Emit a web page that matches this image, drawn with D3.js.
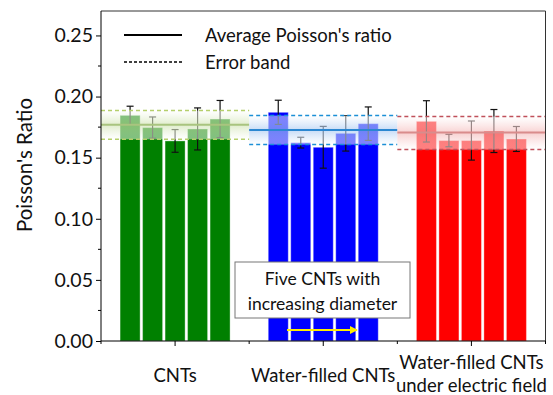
<!DOCTYPE html>
<html><head><meta charset="utf-8">
<script src="https://cdn.jsdelivr.net/npm/d3@7"></script>
<style>body{margin:0;background:#fff}svg{display:block}text{font-family:Lato,"Open Sans",sans-serif;fill:#111}</style>
</head><body><svg id="c" width="553" height="395"></svg>
<script>
const categories = ["CNTs", "Water-filled CNTs", "Water-filled CNTs|under electric field"];
const cntValues = [0.1846, 0.1746, 0.1637, 0.1735, 0.1816];
const cntErrors = [0.0075, 0.0087, 0.0093, 0.0172, 0.0152];
const waterValues = [0.1871, 0.1623, 0.1585, 0.1699, 0.1778];
const waterErrors = [0.0099, 0.0044, 0.0171, 0.0145, 0.0137];
const fieldValues = [0.1797, 0.1640, 0.1640, 0.1718, 0.1653];
const fieldErrors = [0.0169, 0.0051, 0.0160, 0.0176, 0.0102];
const meanValues = [0.1770, 0.1727, 0.1705];
const bandUpper = [0.1885, 0.1844, 0.1836];
const bandLower = [0.1650, 0.1607, 0.1566];
const yTicks = [0.00, 0.05, 0.10, 0.15, 0.20, 0.25];
const barColors = ["#008000", "#0000ff", "#ff0000"];
const tintColors = ["#cfe3b0", "#a9c9f2", "#f4b8b8"];
const meanColors = ["#a9c47f", "#2b87d1", "#d98c8c"];
const dashColors = ["#b5cf6b", "#1b8fd6", "#c0505a"];

const series = [cntValues, waterValues, fieldValues];
const errors = [cntErrors, waterErrors, fieldErrors];

const svg = d3.select("#c");
const L = 101, R = 545.5, T = 11, B = 341;
const x = d3.scaleBand().domain(categories).range([L, R]).padding(0);
const y = d3.scaleLinear().domain([0, 0.27]).range([B, T]);
const idx = d3.range(5);
const inner = d3.scaleBand().domain(idx).paddingInner(0.11).paddingOuter(0);

const defs = svg.append("defs");
categories.forEach((c, i) => {
  const g = defs.append("linearGradient").attr("id", "grad" + i).attr("x1", 0).attr("x2", 0).attr("y1", 0).attr("y2", 1);
  g.append("stop").attr("offset", "0%").attr("stop-color", "#fff").attr("stop-opacity", 0.5);
  g.append("stop").attr("offset", "50%").attr("stop-color", tintColors[i]).attr("stop-opacity", 0.65);
  g.append("stop").attr("offset", "100%").attr("stop-color", "#fff").attr("stop-opacity", 0.5);
});

// bars
categories.forEach((c, i) => {
  const cx = x(c) + x.bandwidth() / 2;
  inner.range([cx - 55, cx + 55]);
  const g = svg.append("g");
  g.selectAll("rect").data(series[i]).join("rect")
    .attr("x", (d, j) => inner(j)).attr("width", inner.bandwidth())
    .attr("y", d => y(d)).attr("height", d => B - y(d))
    .attr("fill", barColors[i]).attr("stroke", "#fff").attr("stroke-opacity", 0.35).attr("stroke-width", 1);
  // error bars
  const eg = svg.append("g").attr("stroke", "#111").attr("stroke-width", 1.2);
  series[i].forEach((v, j) => {
    const ex = inner(j) + inner.bandwidth() / 2, e = errors[i][j];
    eg.append("line").attr("x1", ex).attr("x2", ex).attr("y1", y(v + e)).attr("y2", y(v - e));
    eg.append("line").attr("x1", ex - 3.5).attr("x2", ex + 3.5).attr("y1", y(v + e)).attr("y2", y(v + e));
    eg.append("line").attr("x1", ex - 3.5).attr("x2", ex + 3.5).attr("y1", y(v - e)).attr("y2", y(v - e));
  });
});

// bands
categories.forEach((c, i) => {
  const x0 = x(c), x1 = x(c) + x.bandwidth();
  svg.append("rect").attr("x", x0).attr("width", x1 - x0)
    .attr("y", y(bandUpper[i])).attr("height", y(bandLower[i]) - y(bandUpper[i]))
    .attr("fill", `url(#grad${i})`);
  svg.append("line").attr("x1", x0).attr("x2", x1).attr("y1", y(meanValues[i])).attr("y2", y(meanValues[i]))
    .attr("stroke", meanColors[i]).attr("stroke-width", 2);
  [bandUpper[i], bandLower[i]].forEach(v => {
    svg.append("line").attr("x1", x0).attr("x2", x1).attr("y1", y(v)).attr("y2", y(v))
      .attr("stroke", dashColors[i]).attr("stroke-width", 1.5).attr("stroke-dasharray", "4,3");
  });
});

// frame
svg.append("path").attr("d", `M${L},${T}H${R}V${B}`).attr("fill", "none").attr("stroke", "#333").attr("stroke-width", 1);

// y axis
const yAxis = svg.append("g").attr("transform", `translate(${L},0)`)
  .call(d3.axisLeft(y).tickValues(yTicks).tickFormat(d3.format(".2f")).tickSize(5).tickPadding(3));
yAxis.append("g").selectAll("line").data(d3.range(0.025, 0.27, 0.05)).join("line")
  .attr("x1", -3).attr("x2", 0).attr("y1", d => y(d)).attr("y2", d => y(d)).attr("stroke", "#000");
yAxis.selectAll("text").style("font-size", "19.5px").style("font-family", "Lato").attr("fill", "#111");
yAxis.select(".domain").attr("stroke", "#000").attr("d", `M0,${T}V${B}`);

// x axis
const xAxis = svg.append("g").attr("transform", `translate(0,${B})`)
  .call(d3.axisBottom(x).tickSize(5).tickFormat(""));
xAxis.select(".domain").attr("stroke", "#000").attr("d", `M${L},0H${R}`);
xAxis.append("g").selectAll("line").data([0, 1, 2, 3]).join("line")
  .attr("x1", d => L + d * x.step()).attr("x2", d => L + d * x.step()).attr("y1", 0).attr("y2", 3).attr("stroke", "#000");
categories.forEach(c => {
  const lines = c.split("|");
  const cx = x(c) + x.bandwidth() / 2;
  const t = svg.append("text").attr("text-anchor", "middle").style("font-size", "18.5px");
  if (lines.length === 1) {
    t.attr("x", cx).attr("y", 382).text(lines[0]);
  } else {
    lines.forEach((s, k) => t.append("tspan").attr("x", cx).attr("y", 369 + k * 23).text(s));
  }
});

// y title
svg.append("text").attr("transform", "translate(32,165) rotate(-90)").attr("text-anchor", "middle")
  .style("font-size", "20.5px").text("Poisson's Ratio");

// legend
svg.append("line").attr("x1", 124).attr("x2", 182).attr("y1", 35).attr("y2", 35).attr("stroke", "#000").attr("stroke-width", 2.2);
svg.append("line").attr("x1", 124).attr("x2", 182).attr("y1", 62).attr("y2", 62).attr("stroke", "#000").attr("stroke-width", 1.3).attr("stroke-dasharray", "3,2");
svg.append("text").attr("x", 205).attr("y", 41.5).style("font-size", "18.5px").text("Average Poisson's ratio");
svg.append("text").attr("x", 205).attr("y", 68.5).style("font-size", "18.5px").text("Error band");

// annotation
svg.append("rect").attr("x", 235).attr("y", 262).attr("width", 175).attr("height", 56)
  .attr("fill", "#fff").attr("stroke", "#777").attr("stroke-width", 1);
svg.append("text").attr("x", 322.5).attr("y", 284.5).attr("text-anchor", "middle").style("font-size", "17.5px").text("Five CNTs with");
svg.append("text").attr("x", 322.5).attr("y", 309.5).attr("text-anchor", "middle").style("font-size", "17.5px").text("increasing diameter");
defs.append("marker").attr("id", "arr").attr("viewBox", "0 0 10 10").attr("refX", 9).attr("refY", 5)
  .attr("markerWidth", 4).attr("markerHeight", 4).attr("orient", "auto")
  .append("path").attr("d", "M0,0L10,5L0,10Z").attr("fill", "#ffee00");
svg.append("line").attr("x1", 287).attr("x2", 357).attr("y1", 330).attr("y2", 330)
  .attr("stroke", "#ffee00").attr("stroke-width", 2).attr("marker-end", "url(#arr)");
</script></body></html>
